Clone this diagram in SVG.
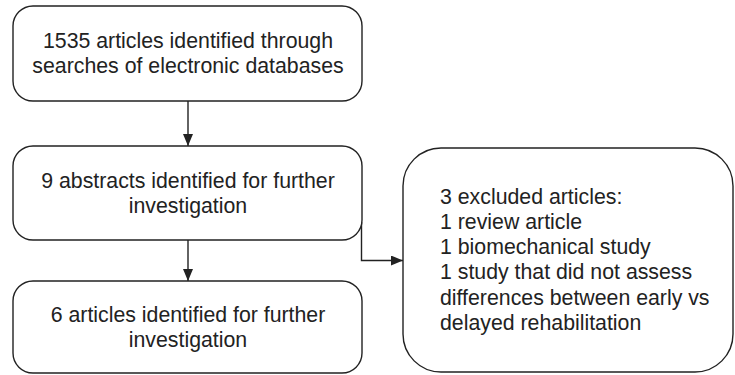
<svg xmlns="http://www.w3.org/2000/svg" width="735" height="375" viewBox="0 0 735 375">
<style>
.box{fill:#fff;stroke:#222;stroke-width:1.4}
.t{font-family:"Liberation Sans",Arial,sans-serif;font-size:21.3px;fill:#222}
.c{text-anchor:middle}
.ln{fill:none;stroke:#222;stroke-width:1.4}
</style>
<defs>
<marker id="ah" viewBox="0 0 12 10" refX="12" refY="5" markerWidth="12" markerHeight="10" markerUnits="userSpaceOnUse" orient="auto">
<path d="M0,0 L12,5 L0,10 Z" fill="#222"/>
</marker>
</defs>
<rect width="735" height="375" fill="#fff"/>
<g id="connectors">
<line class="ln" x1="188" y1="101" x2="188" y2="146" marker-end="url(#ah)"/>
<line class="ln" x1="188" y1="240" x2="188" y2="281" marker-end="url(#ah)"/>
<polyline class="ln" points="361.5,222 361.5,260.5 403,260.5" marker-end="url(#ah)"/>
</g>
<g id="n1">
<rect class="box" x="13" y="6" width="349" height="95" rx="20"/>
<text class="t c" x="188" y="48">1535 articles identified through</text>
<text class="t c" x="188" y="73">searches of electronic databases</text>
</g>
<g id="n2">
<rect class="box" x="13" y="146" width="349" height="94" rx="20"/>
<text class="t c" x="188" y="188">9 abstracts identified for further</text>
<text class="t c" x="188" y="213">investigation</text>
</g>
<g id="n3">
<rect class="box" x="13" y="281" width="349" height="92" rx="20"/>
<text class="t c" x="188" y="322">6 articles identified for further</text>
<text class="t c" x="188" y="347">investigation</text>
</g>
<g id="n4">
<rect class="box" x="403" y="148" width="330" height="224" rx="38"/>
<text class="t" x="440" y="203.5">3 excluded articles:</text>
<text class="t" x="440" y="228.8">1 review article</text>
<text class="t" x="440" y="254.1">1 biomechanical study</text>
<text class="t" x="440" y="279.4">1 study that did not assess</text>
<text class="t" x="440" y="304.7">differences between early vs</text>
<text class="t" x="440" y="330">delayed rehabilitation</text>
</g>
</svg>
